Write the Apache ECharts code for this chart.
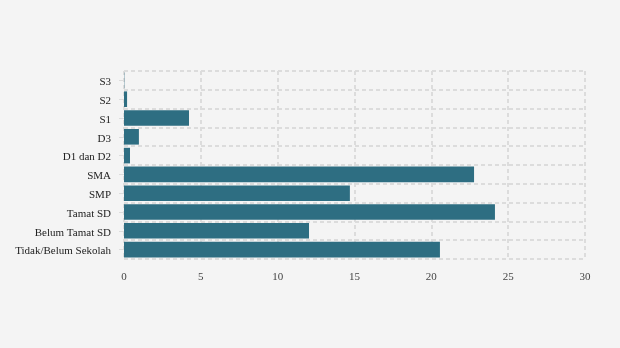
<!DOCTYPE html>
<html>
<head>
<meta charset="utf-8">
<script src="https://cdn.jsdelivr.net/npm/echarts@6/dist/echarts.min.js"></script>
<style>
  html, body { margin: 0; padding: 0; background: #f4f4f4; }
  #chart { width: 620px; height: 348px; }
</style>
</head>
<body>
<div id="chart"></div>
<script>
// Education levels, listed bottom to top
const categories = ['Tidak/Belum Sekolah', 'Belum Tamat SD', 'Tamat SD', 'SMP', 'SMA', 'D1 dan D2', 'D3', 'S1', 'S2', 'S3'];
const values = [20.56, 12.04, 24.14, 14.7, 22.78, 0.39, 0.97, 4.23, 0.2, 0.02];
const xTicks = [0, 5, 10, 15, 20, 25, 30];

const font = '"Liberation Serif", "DejaVu Serif", serif';
const gridLine = { show: true, lineStyle: { color: '#dcdcdc', type: [4, 3], width: 2 } };

const chart = echarts.init(document.getElementById('chart'), null, { renderer: 'canvas' });
chart.setOption({
  backgroundColor: '#f4f4f4',
  animation: false,
  grid: { left: 124, right: 35, top: 71, bottom: 89, containLabel: false },
  xAxis: {
    type: 'value',
    min: xTicks[0],
    max: xTicks[xTicks.length - 1],
    interval: 5,
    axisLine: { show: false },
    axisTick: { show: false },
    axisLabel: { color: '#444', fontFamily: font, fontSize: 11, margin: 13 },
    splitLine: gridLine
  },
  yAxis: {
    type: 'category',
    data: categories,
    axisLine: { show: false },
    axisTick: { show: true, alignWithLabel: true, length: 5, lineStyle: { color: '#dcdcdc', width: 1 } },
    axisLabel: {
      margin: 13,
      formatter: (v) => '{c|' + v + '}',
      rich: { c: { color: '#222', fontFamily: font, fontSize: 11, padding: [4, 0, 0, 0] } }
    },
    splitLine: gridLine
  },
  series: [{
    type: 'bar',
    data: values,
    barCategoryGap: '17%',
    itemStyle: { color: '#2e6e82' }
  }]
});
</script>
</body>
</html>
